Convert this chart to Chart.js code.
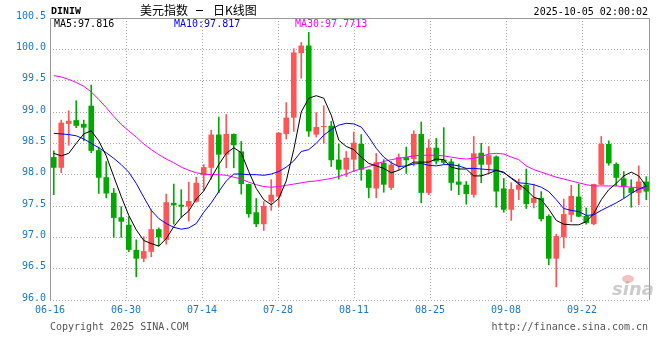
<!DOCTYPE html>
<html>
<head>
<meta charset="utf-8">
<script src="https://cdn.jsdelivr.net/npm/chart.js@4.4.1/dist/chart.umd.min.js"></script>
<style>
  html, body { margin: 0; padding: 0; background: #fff; }
  #wrap { width: 660px; height: 360px; }
</style>
</head>
<body>
<div id="wrap"><canvas id="kline" width="660" height="360"></canvas></div>
<script>
// Trading days 06-16 .. 10-03
const dates = [
  '06-16','06-17','06-18','06-19','06-20','06-23','06-24','06-25','06-26','06-27',
  '06-30','07-01','07-02','07-03','07-04','07-07','07-08','07-09','07-10','07-11',
  '07-14','07-15','07-16','07-17','07-18','07-21','07-22','07-23','07-24','07-25',
  '07-28','07-29','07-30','07-31','08-01','08-04','08-05','08-06','08-07','08-08',
  '08-11','08-12','08-13','08-14','08-15','08-18','08-19','08-20','08-21','08-22',
  '08-25','08-26','08-27','08-28','08-29','09-01','09-02','09-03','09-04','09-05',
  '09-08','09-09','09-10','09-11','09-12','09-15','09-16','09-17','09-18','09-19',
  '09-22','09-23','09-24','09-25','09-26','09-29','09-30','10-01','10-02','10-03'
];

const openVals = [
  98.28, 98.11, 98.81, 98.87, 98.81, 99.10, 98.39, 97.96, 97.71, 97.32,
  97.20, 96.80, 96.66, 96.77, 97.13, 96.96, 97.55, 97.52, 97.49, 97.57,
  97.99, 98.11, 98.64, 98.32, 98.65, 98.37, 97.85, 97.40, 97.21, 97.57,
  97.65, 98.65, 98.91, 99.94, 100.06, 98.64, 98.76, 98.78, 98.24, 98.08,
  98.24, 98.49, 98.08, 97.78, 98.19, 97.79, 98.14, 98.28, 98.25, 98.65,
  97.71, 98.43, 98.24, 98.21, 97.89, 97.84, 97.68, 98.35, 98.16, 98.29,
  97.78, 97.44, 97.76, 97.84, 97.55, 97.63, 97.34, 96.66, 97.00, 97.36,
  97.65, 97.34, 97.21, 97.84, 98.49, 98.17, 97.94, 97.79, 97.71, 97.89
];
const highVals = [
  98.38, 98.87, 99.02, 99.18, 98.87, 99.43, 98.44, 98.21, 97.78, 97.49,
  97.33, 96.96, 97.01, 97.44, 97.15, 97.69, 97.85, 97.76, 97.88, 97.96,
  98.16, 98.71, 98.92, 98.96, 98.65, 98.53, 97.85, 97.62, 97.57, 97.92,
  98.67, 99.15, 100.01, 100.11, 100.27, 98.99, 99.10, 98.85, 98.49, 98.37,
  98.68, 98.64, 98.08, 98.34, 98.24, 98.21, 98.33, 98.44, 98.70, 98.84,
  98.56, 98.58, 98.75, 98.25, 98.17, 97.89, 98.61, 98.50, 98.45, 98.30,
  97.94, 97.87, 97.93, 98.09, 97.85, 97.73, 97.36, 97.05, 97.61, 97.83,
  97.85, 97.47, 97.85, 98.61, 98.54, 98.19, 98.05, 97.92, 98.14, 97.97
];
const lowVals = [
  97.68, 98.03, 98.47, 98.75, 98.54, 98.35, 97.70, 97.63, 97.00, 97.00,
  96.77, 96.37, 96.61, 96.69, 96.86, 96.89, 97.21, 97.32, 97.26, 97.56,
  97.75, 97.93, 97.71, 98.11, 98.11, 97.69, 97.32, 97.17, 97.11, 97.43,
  97.49, 98.57, 98.69, 99.54, 98.61, 98.60, 98.50, 98.13, 97.93, 97.97,
  98.05, 97.91, 97.63, 97.63, 97.72, 97.76, 98.08, 98.02, 98.14, 97.55,
  97.68, 98.17, 98.17, 97.75, 97.68, 97.53, 97.64, 97.87, 98.02, 97.48,
  97.40, 97.27, 97.60, 97.46, 97.47, 97.26, 96.56, 96.21, 96.83, 97.25,
  97.33, 97.21, 97.20, 97.84, 98.15, 97.82, 97.63, 97.48, 97.52, 97.60
];
const closeVals = [
  98.11, 98.83, 98.86, 98.78, 98.75, 98.38, 97.95, 97.70, 97.31, 97.25,
  96.80, 96.66, 96.78, 97.13, 97.00, 97.56, 97.51, 97.49, 97.58, 97.87,
  98.12, 98.64, 98.32, 98.65, 98.47, 97.85, 97.37, 97.21, 97.50, 97.68,
  98.67, 98.91, 99.95, 100.06, 98.69, 98.76, 98.77, 98.23, 98.08, 98.27,
  98.51, 98.08, 97.79, 98.20, 97.84, 98.16, 98.28, 98.23, 98.65, 97.71,
  98.43, 98.21, 98.19, 97.87, 97.84, 97.69, 98.34, 98.16, 98.31, 97.73,
  97.44, 97.77, 97.84, 97.53, 97.63, 97.29, 96.66, 97.02, 97.37, 97.66,
  97.33, 97.23, 97.85, 98.49, 98.18, 97.95, 97.81, 97.71, 97.89, 97.73
];

const ma5 = [
  98.34, 98.30, 98.34, 98.50, 98.65, 98.70, 98.54, 98.30, 97.97, 97.65,
  97.35, 97.12, 96.95, 96.90, 96.86, 96.98, 97.17, 97.32, 97.42, 97.61,
  97.74, 97.95, 98.16, 98.34, 98.43, 98.35, 98.05, 97.78, 97.60, 97.52,
  97.62, 97.90, 98.40, 99.00, 99.22, 99.26, 99.22, 98.95, 98.55, 98.45,
  98.40, 98.28, 98.18, 98.14, 98.10, 98.03, 98.07, 98.14, 98.20, 98.20,
  98.20, 98.25, 98.24, 98.12, 98.09, 98.09, 97.98, 97.98, 98.02, 98.07,
  98.04, 97.94, 97.85, 97.76, 97.64, 97.60, 97.45, 97.27, 97.21, 97.20,
  97.20, 97.25, 97.38, 97.60, 97.76, 97.86, 97.98, 98.04, 97.98, 97.816
];
const ma10 = [
  98.66, 98.65, 98.64, 98.62, 98.57, 98.50, 98.43, 98.35, 98.26, 98.16,
  98.04, 97.86, 97.64, 97.43, 97.30, 97.22, 97.16, 97.13, 97.15, 97.22,
  97.40, 97.55, 97.73, 97.90, 98.01, 98.01, 98.00, 98.00, 97.99, 98.01,
  98.05, 98.12, 98.22, 98.37, 98.40, 98.50, 98.63, 98.72, 98.79, 98.82,
  98.81, 98.76, 98.60, 98.42, 98.28, 98.19, 98.13, 98.14, 98.17, 98.18,
  98.15, 98.14, 98.16, 98.16, 98.14, 98.10, 98.10, 98.09, 98.08, 98.07,
  98.03, 97.95, 97.87, 97.86, 97.84, 97.80, 97.73, 97.60, 97.46, 97.43,
  97.41, 97.35, 97.36, 97.43, 97.49, 97.55, 97.62, 97.70, 97.77, 97.817
];
const ma30 = [
  99.58, 99.56, 99.52, 99.47, 99.41, 99.32, 99.20, 99.07, 98.93, 98.80,
  98.70, 98.60, 98.49, 98.40, 98.32, 98.25, 98.19, 98.12, 98.07, 98.03,
  98.01, 98.00, 98.00, 97.99, 97.96, 97.93, 97.88, 97.84, 97.81, 97.80,
  97.81, 97.83, 97.85, 97.87, 97.89, 97.90, 97.92, 97.94, 97.97, 98.01,
  98.06, 98.09, 98.13, 98.17, 98.21, 98.24, 98.26, 98.28, 98.30, 98.31,
  98.31, 98.31, 98.30, 98.28, 98.26, 98.25, 98.26, 98.29, 98.33, 98.34,
  98.33, 98.28, 98.24, 98.14, 98.08, 98.04, 98.00, 97.96, 97.93, 97.90,
  97.87, 97.84, 97.82, 97.82, 97.82, 97.82, 97.81, 97.80, 97.79, 97.7713
];

const xTickLabels = ['06-16', '06-30', '07-14', '07-28', '08-11', '08-25', '09-08', '09-22'];
const yTickValues = [96.0, 96.5, 97.0, 97.5, 98.0, 98.5, 99.0, 99.5, 100.0, 100.5];

const UP = '#ff5555';
const DOWN = '#00a800';
const AXIS_BLUE = '#1a78c8';
const MONO = "'DejaVu Sans Mono', monospace";

const candleColors = closeVals.map((c, i) => (c >= openVals[i] ? UP : DOWN));
const bodies = openVals.map((o, i) => [o, closeVals[i]]);
const wicks = lowVals.map((l, i) => [l, highVals[i]]);
const last = closeVals.length - 1;

// plot frame (top, left, right solid)
const framePlugin = {
  id: 'frame',
  beforeDatasetsDraw(chart) {
    const { ctx, chartArea: a } = chart;
    ctx.save();
    ctx.strokeStyle = '#999';
    ctx.lineWidth = 1;
    ctx.beginPath();
    ctx.moveTo(a.left + 0.5, a.bottom);
    ctx.lineTo(a.left + 0.5, a.top + 0.5);
    ctx.lineTo(a.right - 0.5, a.top + 0.5);
    ctx.lineTo(a.right - 0.5, a.bottom);
    ctx.stroke();
    ctx.restore();
  }
};

// title, MA legend, footer and watermark
const textPlugin = {
  id: 'texts',
  afterDraw(chart) {
    const { ctx, chartArea: a } = chart;
    ctx.save();
    ctx.textBaseline = 'middle';
    ctx.textAlign = 'left';
    ctx.fillStyle = '#000';
    ctx.font = "bold 10px 'Liberation Mono', monospace";
    ctx.fillText('DINIW', a.left + 1, 11);
    ctx.font = "12px 'Noto Sans CJK SC', sans-serif";
    ctx.fillText('美元指数', 140, 10);
    ctx.fillText('日K线图', 213, 10);
    ctx.fillRect(196, 10, 7, 1);
    ctx.font = '10px ' + MONO;
    ctx.textAlign = 'right';
    ctx.fillText('2025-10-05 02:00:02', a.right - 2, 12);

    ctx.textAlign = 'left';
    ctx.fillStyle = '#000';
    ctx.fillText('MA5:' + ma5[last].toFixed(3), a.left + 4, a.top + 6);
    ctx.fillStyle = '#0000ff';
    ctx.fillText('MA10:' + ma10[last].toFixed(3), a.left + 124, a.top + 6);
    ctx.fillStyle = '#ff00ff';
    ctx.fillText('MA30:' + ma30[last].toFixed(4), a.left + 245, a.top + 6);

    ctx.fillStyle = '#555';
    ctx.fillText('Copyright 2025 SINA.COM', a.left, 327);
    ctx.textAlign = 'right';
    ctx.fillText('http://finance.sina.com.cn', a.right - 2, 327);

    // faint sina logo
    ctx.fillStyle = 'rgba(235,140,140,0.55)';
    ctx.beginPath();
    ctx.ellipse(628, 279, 6, 4, 0, 0, Math.PI * 2);
    ctx.fill();
    ctx.fillStyle = 'rgba(170,170,170,0.6)';
    ctx.font = "italic bold 18px 'DejaVu Sans', sans-serif";
    ctx.textAlign = 'left';
    ctx.fillText('sina', 612, 290);
    ctx.restore();
  }
};

const lineSet = (label, data, color) => ({
  type: 'line',
  label: label,
  data: data,
  borderColor: color,
  borderWidth: 1,
  pointRadius: 0,
  tension: 0,
  xAxisID: 'x',
  yAxisID: 'y',
  order: 1
});

new Chart(document.getElementById('kline'), {
  type: 'bar',
  data: {
    labels: dates,
    datasets: [
      lineSet('MA5', ma5, '#000000'),
      lineSet('MA10', ma10, '#0000ff'),
      lineSet('MA30', ma30, '#ff00ff'),
      {
        label: 'body',
        data: bodies,
        backgroundColor: candleColors,
        grouped: false,
        categoryPercentage: 1,
        barPercentage: 0.75,
        minBarLength: 1,
        xAxisID: 'x',
        yAxisID: 'y',
        order: 2
      },
      {
        label: 'wick',
        data: wicks,
        backgroundColor: candleColors,
        grouped: false,
        barThickness: 1,
        xAxisID: 'x',
        yAxisID: 'y',
        order: 3
      }
    ]
  },
  options: {
    responsive: false,
    animation: false,
    devicePixelRatio: 1,
    layout: { padding: { top: 18, right: 10, left: 0, bottom: 0 } },
    plugins: {
      legend: { display: false },
      tooltip: { enabled: false }
    },
    scales: {
      x: { display: false, offset: true },
      xg: {
        type: 'linear',
        position: 'bottom',
        offset: false,
        min: 0,
        max: 600 / 76,
        afterBuildTicks: s => { s.ticks = xTickLabels.map((_, i) => ({ value: i })); },
        afterFit: s => { s.height = 60; },
        grid: { color: '#aaa', drawTicks: false, offset: false },
        border: { display: false, dash: [1, 2] },
        ticks: {
          color: AXIS_BLUE,
          font: { family: MONO, size: 10 },
          padding: 4,
          autoSkip: false,
          maxRotation: 0,
          callback: (v, i) => xTickLabels[i]
        }
      },
      y: {
        min: 96,
        max: 100.5,
        afterBuildTicks: s => { s.ticks = yTickValues.map(v => ({ value: v })); },
        afterFit: s => { s.width = 50; },
        grid: { color: '#aaa', drawTicks: false },
        border: { display: false, dash: [1, 2] },
        ticks: {
          color: AXIS_BLUE,
          font: { family: MONO, size: 10 },
          padding: 4,
          labelOffset: -2,
          callback: v => v.toFixed(1)
        }
      }
    }
  },
  plugins: [framePlugin, textPlugin]
});
</script>
</body>
</html>
